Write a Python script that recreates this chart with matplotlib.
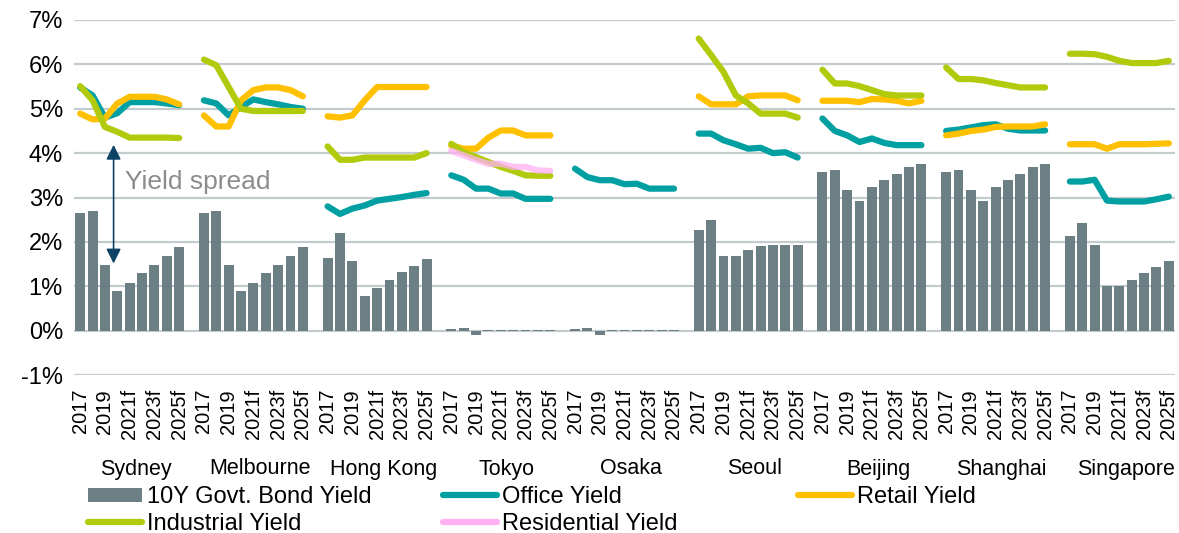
import matplotlib.pyplot as plt
import numpy as np
from matplotlib.patches import Patch
from matplotlib.lines import Line2D
import matplotlib.transforms as mtransforms

plt.rcParams['font.family'] = ['Liberation Sans', 'DejaVu Sans']

cities = ["Sydney", "Melbourne", "Hong Kong", "Tokyo", "Osaka",
          "Seoul", "Beijing", "Shanghai", "Singapore"]
years = ["2017", "2018", "2019", "2020", "2021f", "2022f", "2023f", "2024f", "2025f"]

# 10Y government bond yield (%)
bond = {
    "Sydney":    [2.65, 2.69, 1.49, 0.90, 1.08, 1.29, 1.49, 1.69, 1.88],
    "Melbourne": [2.65, 2.69, 1.49, 0.90, 1.08, 1.29, 1.49, 1.69, 1.88],
    "Hong Kong": [1.63, 2.20, 1.58, 0.77, 0.95, 1.13, 1.32, 1.45, 1.61],
    "Tokyo":     [0.04, 0.06, -0.10, 0.01, 0.01, 0.01, 0.01, 0.01, 0.01],
    "Osaka":     [0.04, 0.06, -0.10, 0.01, 0.01, 0.01, 0.01, 0.01, 0.01],
    "Seoul":     [2.27, 2.50, 1.69, 1.69, 1.82, 1.90, 1.94, 1.94, 1.94],
    "Beijing":   [3.57, 3.63, 3.18, 2.93, 3.23, 3.39, 3.54, 3.69, 3.75],
    "Shanghai":  [3.57, 3.63, 3.18, 2.93, 3.23, 3.39, 3.54, 3.69, 3.75],
    "Singapore": [2.14, 2.42, 1.94, 1.00, 1.00, 1.15, 1.29, 1.44, 1.58],
}

office = {
    "Sydney":    [5.48, 5.30, 4.80, 4.90, 5.15, 5.15, 5.15, 5.12, 5.08],
    "Melbourne": [5.19, 5.12, 4.85, 5.04, 5.21, 5.15, 5.10, 5.04, 5.00],
    "Hong Kong": [2.80, 2.63, 2.75, 2.82, 2.93, 2.97, 3.01, 3.06, 3.10],
    "Tokyo":     [3.50, 3.40, 3.20, 3.20, 3.09, 3.09, 2.97, 2.97, 2.97],
    "Osaka":     [3.65, 3.46, 3.39, 3.39, 3.30, 3.31, 3.20, 3.20, 3.20],
    "Seoul":     [4.44, 4.44, 4.29, 4.20, 4.10, 4.12, 4.00, 4.02, 3.90],
    "Beijing":   [4.78, 4.50, 4.40, 4.25, 4.33, 4.23, 4.18, 4.18, 4.18],
    "Shanghai":  [4.50, 4.53, 4.58, 4.63, 4.65, 4.55, 4.51, 4.51, 4.51],
    "Singapore": [3.36, 3.36, 3.40, 2.93, 2.91, 2.91, 2.91, 2.96, 3.02],
}

retail = {
    "Sydney":    [4.89, 4.76, 4.78, 5.12, 5.27, 5.27, 5.27, 5.21, 5.10],
    "Melbourne": [4.85, 4.60, 4.60, 5.19, 5.42, 5.48, 5.48, 5.42, 5.28],
    "Hong Kong": [4.83, 4.80, 4.85, 5.19, 5.49, 5.49, 5.49, 5.49, 5.49],
    "Tokyo":     [4.17, 4.10, 4.10, 4.35, 4.51, 4.51, 4.40, 4.40, 4.40],
    "Seoul":     [5.28, 5.10, 5.10, 5.10, 5.28, 5.30, 5.30, 5.30, 5.19],
    "Beijing":   [5.18, 5.18, 5.18, 5.15, 5.22, 5.21, 5.18, 5.12, 5.18],
    "Shanghai":  [4.40, 4.44, 4.50, 4.53, 4.59, 4.60, 4.60, 4.60, 4.65],
    "Singapore": [4.20, 4.20, 4.20, 4.10, 4.20, 4.20, 4.20, 4.21, 4.22],
}

industrial = {
    "Sydney":    [5.51, 5.19, 4.59, 4.48, 4.35, 4.35, 4.35, 4.35, 4.34],
    "Melbourne": [6.11, 5.98, 5.49, 5.00, 4.95, 4.95, 4.95, 4.95, 4.95],
    "Hong Kong": [4.15, 3.85, 3.85, 3.90, 3.90, 3.90, 3.90, 3.90, 4.00],
    "Tokyo":     [4.21, 4.02, 3.91, 3.80, 3.69, 3.60, 3.50, 3.49, 3.49],
    "Seoul":     [6.58, 6.21, 5.83, 5.30, 5.12, 4.89, 4.89, 4.89, 4.80],
    "Beijing":   [5.88, 5.57, 5.57, 5.51, 5.42, 5.33, 5.30, 5.30, 5.30],
    "Shanghai":  [5.93, 5.67, 5.67, 5.64, 5.58, 5.53, 5.48, 5.48, 5.48],
    "Singapore": [6.24, 6.24, 6.23, 6.17, 6.08, 6.03, 6.03, 6.03, 6.08],
}

residential = {
    "Tokyo":     [4.05, 3.95, 3.85, 3.76, 3.76, 3.69, 3.69, 3.61, 3.60],
}

bar_color = "#6b7f85"
office_color = "#00a0a2"
retail_color = "#ffc000"
industrial_color = "#b1cb0c"
resi_color = "#ffb0f2"

W, H = 1179, 533
fig = plt.figure(figsize=(W / 100, H / 100), dpi=100)
ax = fig.add_axes([74 / W, 1 - 375 / H, (1175 - 74) / W, (375 - 20) / H])

# one empty slot between each city group
slot = 10
for g, c in enumerate(cities):
    x = np.arange(len(years)) + g * slot
    ax.bar(x, bond[c], width=0.8, color=bar_color, zorder=2)

line_kw = dict(lw=4.5, solid_capstyle='round', solid_joinstyle='round')
for series, col, z, a in [(office, office_color, 3, 1.0),
                          (retail, retail_color, 4, 1.0),
                          (industrial, industrial_color, 5, 1.0),
                          (residential, resi_color, 6, 0.75)]:
    for g, c in enumerate(cities):
        if c in series:
            x = np.arange(len(years)) + g * slot
            ax.plot(x, series[c], color=col, zorder=z, alpha=a, **line_kw)

ax.set_ylim(-1, 7)
ax.set_xlim(-0.5, slot * len(cities) - 1.5)
ax.set_yticks(range(-1, 8))
ax.set_yticklabels([f"{v}%" for v in range(-1, 8)], fontsize=17)
ax.yaxis.grid(True, color="#c3cbcf", lw=1.6, zorder=0)
ax.set_axisbelow(True)
for s in ax.spines.values():
    s.set_visible(False)
ax.tick_params(axis='both', length=0, pad=8)

ticks, labels = [], []
for g in range(len(cities)):
    for i in range(0, len(years), 2):
        ticks.append(g * slot + i)
        labels.append(years[i])
ax.set_xticks(ticks)
ax.set_xticklabels(labels, rotation=90, fontsize=14.5)
ax.tick_params(axis='x', pad=10)

trans = mtransforms.blended_transform_factory(ax.transData, fig.transFigure)
for g, c in enumerate(cities):
    ax.text(g * slot + 4.5, 1 - 469 / H, c, transform=trans, ha='center',
            va='center', fontsize=15.5)

# yield spread annotation
ax.annotate("", xy=(2.7, 1.45), xytext=(2.7, 4.25),
            arrowprops=dict(arrowstyle='<|-|>', color="#0d4466", lw=1.2,
                            mutation_scale=22), zorder=7)
ax.text(3.6, 3.35, "Yield spread", fontsize=19, color="#8c8c8c",
        va='center', ha='left', zorder=7)

# legend: three equal-width columns like the original
def lline(col, lab):
    return Line2D([], [], color=col, lw=4.5, solid_capstyle='round', label=lab)

columns = [
    (88, [Patch(facecolor=bar_color, label="10Y Govt. Bond Yield"),
          lline(industrial_color, "Industrial Yield")]),
    (443, [lline(office_color, "Office Yield"),
           lline(resi_color, "Residential Yield")]),
    (798, [lline(retail_color, "Retail Yield")]),
]
for x0, hs in columns:
    fig.legend(handles=hs, loc='upper left',
               bbox_to_anchor=(x0 / W, 1 - 486 / H), frameon=False,
               fontsize=17, handlelength=2.3, handleheight=0.55,
               handletextpad=0.2, labelspacing=0.22,
               borderpad=0, borderaxespad=0)

fig.savefig("out.png", dpi=100)
